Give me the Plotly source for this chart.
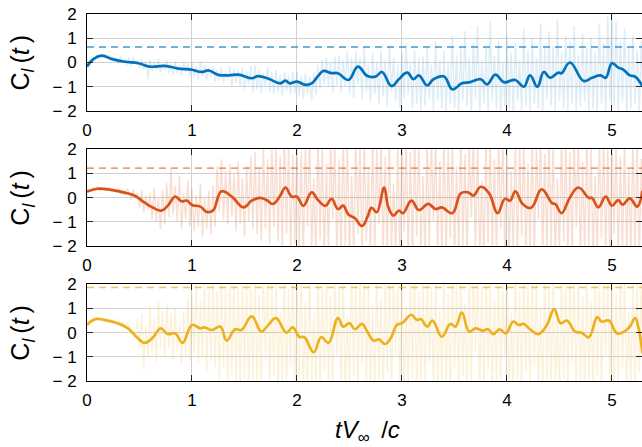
import numpy as np
import plotly.graph_objects as go
from plotly.subplots import make_subplots

# ---- smoothed lift coefficient, three cases ----
t_blue = [0.0, 0.06, 0.14, 0.24, 0.36, 0.49, 0.6, 0.74, 0.87, 1.0, 1.09, 1.16, 1.25, 1.35,
          1.44, 1.57, 1.63, 1.73, 1.84, 1.89, 1.93, 2.0, 2.08, 2.14, 2.2, 2.25, 2.33, 2.39,
          2.49, 2.58, 2.67, 2.75, 2.81, 2.9, 2.97, 3.05, 3.11, 3.16, 3.24, 3.3, 3.4, 3.48,
          3.57, 3.65, 3.75, 3.81, 3.89, 3.97, 4.08, 4.16, 4.22, 4.29, 4.35, 4.41, 4.49, 4.52,
          4.6, 4.73, 4.81, 4.89, 4.94, 5.0, 5.06, 5.11, 5.17, 5.22, 5.29]
cl_blue = [-0.17, 0.14, 0.28, 0.14, 0.03, -0.03, -0.17, -0.14, -0.25, -0.3, -0.39, -0.33,
           -0.51, -0.53, -0.5, -0.65, -0.56, -0.67, -0.86, -0.75, -0.86, -0.79, -0.92, -0.86,
           -0.56, -0.35, -0.44, -0.44, -0.72, -0.17, -0.56, -0.58, -0.39, -0.97, -0.69, -0.42,
           -0.69, -0.53, -0.94, -0.69, -0.58, -1.11, -0.86, -0.81, -0.69, -0.9, -0.5, -0.81,
           -0.72, -1.0, -0.53, -1.0, -0.39, -0.63, -0.42, -0.44, 0.0, -0.76, -0.63, -0.53,
           -0.63, -0.03, -0.21, -0.3, -0.53, -0.58, -0.97]

t_red = [0.0, 0.1, 0.23, 0.36, 0.46, 0.55, 0.63, 0.71, 0.77, 0.84, 0.9, 0.95, 1.0, 1.08,
         1.14, 1.2, 1.28, 1.38, 1.49, 1.57, 1.65, 1.71, 1.77, 1.84, 1.89, 1.95, 2.0, 2.06,
         2.14, 2.2, 2.27, 2.33, 2.39, 2.44, 2.49, 2.55, 2.62, 2.67, 2.71, 2.76, 2.83, 2.87,
         2.92, 2.97, 3.01, 3.09, 3.16, 3.25, 3.32, 3.38, 3.48, 3.56, 3.63, 3.68, 3.75, 3.83,
         3.91, 3.98, 4.03, 4.08, 4.15, 4.23, 4.33, 4.43, 4.46, 4.52, 4.6, 4.68, 4.78, 4.81,
         4.87, 4.94, 5.0, 5.06, 5.1, 5.17, 5.24, 5.29]
cl_red = [0.25, 0.37, 0.32, 0.21, 0.07, -0.21, -0.42, -0.53, -0.33, 0.04, -0.15, -0.12,
          -0.3, -0.37, -0.59, -0.53, 0.26, 0.04, -0.4, -0.12, -0.01, -0.1, -0.26, 0.08, 0.42,
          0.04, 0.04, -0.34, 0.22, -0.1, -0.34, -0.05, -0.47, -0.33, -0.7, -0.84, -1.17,
          -0.81, -0.42, -0.6, 0.42, -0.4, -0.74, -0.53, -0.64, -0.12, -0.51, -0.26, -0.47,
          -0.4, -0.64, 0.18, 0.22, 0.08, 0.45, 0.18, -0.64, -0.05, -0.12, 0.26, -0.26, -0.42,
          0.34, -0.23, -0.26, -0.64, 0.01, 0.42, -0.01, -0.01, -0.4, 0.04, -0.33, -0.1, -0.29,
          -0.03, -0.37, 0.29]

t_yellow = [0.0, 0.08, 0.16, 0.29, 0.39, 0.47, 0.55, 0.63, 0.7, 0.77, 0.84, 0.91, 1.0, 1.08,
            1.12, 1.19, 1.27, 1.33, 1.41, 1.47, 1.57, 1.66, 1.72, 1.8, 1.9, 1.96, 2.02, 2.07,
            2.16, 2.23, 2.3, 2.39, 2.44, 2.5, 2.55, 2.62, 2.67, 2.73, 2.78, 2.84, 2.9, 2.95,
            3.0, 3.09, 3.14, 3.18, 3.24, 3.29, 3.38, 3.46, 3.51, 3.57, 3.64, 3.7, 3.77, 3.82,
            3.87, 3.93, 3.99, 4.06, 4.11, 4.16, 4.22, 4.3, 4.38, 4.45, 4.51, 4.57, 4.65, 4.71,
            4.78, 4.86, 4.9, 4.97, 5.05, 5.13, 5.17, 5.22, 5.25, 5.29]
cl_yellow = [0.32, 0.56, 0.53, 0.39, 0.18, -0.17, -0.42, -0.19, 0.18, -0.06, -0.03, -0.42,
             0.32, 0.18, 0.22, 0.11, 0.25, -0.33, 0.14, 0.11, 0.67, 0.04, 0.28, 0.6, 0.0, 0.22,
             -0.17, -0.19, -0.81, -0.19, -0.42, 0.6, 0.25, 0.39, 0.14, 0.36, 0.04, -0.33,
             -0.28, -0.47, -0.17, 0.32, 0.39, 0.74, 0.53, 0.56, 0.25, 0.5, -0.17, 0.36, 0.25,
             0.83, 0.04, 0.18, 0.08, 0.14, -0.06, 0.14, -0.03, 0.46, 0.32, 0.36, 0.14, -0.06,
             0.32, 0.97, 0.39, 0.5, 0.04, 0.0, -0.19, 0.64, 0.46, 0.5, -0.03, 0.08, 0.25, 0.6,
             0.25, -0.86]

# ---- raw (unfiltered) samples, dt = 0.02 ----
t_raw = np.round(np.arange(266) * 0.02, 2)
raw_blue = [
    -0.2, -0.05, 0.1, 0.05, 0.2, 0.15, 0.3, 0.22, 0.35, 0.2,
    0.3, 0.1, 0.25, 0.05, 0.2, -0.05, 0.25, 0.0, 0.15, -0.1,
    0.2, -0.15, 0.25, -0.05, 0.1, -0.25, 0.15, -0.3, 0.05, -0.7,
    0.1, -0.35, 0.0, -0.3, 0.15, -0.4, -0.05, -0.3, 0.1, -0.45,
    -0.05, -0.5, 0.05, -0.45, -0.1, -0.55, 0.0, -0.4, -0.05, -0.6,
    0.0, -0.6, -0.15, -0.7, 0.05, -0.55, -0.1, -0.75, -0.2, -0.6,
    -0.15, -0.8, -0.3, -0.75, -0.2, -0.85, -0.35, -0.7, -0.15, -0.95,
    -0.25, -0.85, -0.3, -1.0, -0.2, -1.1, -0.35, -0.9, -0.15, -1.2,
    -0.1, -1.1, -0.3, -1.25, -0.45, -1.0, -0.2, -1.2, -0.4, -1.3,
    -0.3, -1.2, -0.5, -1.35, -0.4, -1.15, -0.55, -1.3, -0.35, -1.25,
    -0.4, -1.4, -0.55, -1.5, -0.45, -1.3, -0.6, -1.55, -0.4, -1.35,
    -0.1, -1.1, 0.1, -0.9, 0.2, -1.0, 0.0, -1.2, 0.25, -0.95,
    0.3, -1.2, 0.1, -1.0, 0.45, -1.3, 0.2, -1.45, 0.5, -0.9,
    0.2, -1.5, 0.6, -1.2, -0.1, -1.6, 0.4, -1.3, 0.0, -1.7,
    0.5, -1.4, 0.1, -1.8, 0.7, -1.2, 0.2, -1.6, -0.1, -1.9,
    0.4, -1.5, 0.8, -1.3, 0.0, -1.9, 0.5, -1.7, 0.2, -2.0,
    0.3, -1.8, 0.6, -1.5, -0.1, -2.0, 0.9, -1.6, 0.1, -1.9,
    0.5, -2.0, 0.0, -1.7, 1.1, -1.9, 0.3, -2.1, 0.6, -1.6,
    1.3, -1.8, 0.2, -2.0, 0.8, -1.5, 1.5, -2.1, 0.1, -1.7,
    0.6, -2.0, 1.7, -1.6, 0.3, -1.9, 0.9, -2.1, 0.0, -1.8,
    1.2, -1.9, 0.4, -2.1, 0.8, -1.6, 0.1, -2.0, 1.4, -1.8,
    0.5, -2.0, 1.0, -1.7, 0.2, -1.9, 1.6, -2.1, 0.6, -1.5,
    1.3, -1.8, 0.7, -2.0, 1.8, -1.6, 0.4, -1.9, 1.1, -2.0,
    0.9, -1.7, 1.5, -2.0, 0.3, -1.8, 1.2, -1.6, 0.6, -2.1,
    1.0, -1.9, 0.4, -2.0, 1.6, -1.7, 0.8, -2.1, 1.9, -1.6,
    2.0, -1.8, 1.7, -2.0, 0.9, -1.6, 1.4, -2.1, 0.6, -1.9,
    1.1, -1.7, 0.5, -2.0, 0.9, -1.8]
raw_red = [
    0.25, 0.35, 0.3, 0.4, 0.35, 0.45, 0.3, 0.4, 0.35, 0.42,
    0.3, 0.4, 0.25, 0.35, 0.2, 0.4, 0.15, 0.3, 0.1, 0.35,
    0.25, -0.1, 0.35, 0.0, 0.2, -0.4, 0.3, -0.6, 0.1, -0.5,
    0.2, -0.9, 0.4, -1.0, 0.0, -1.3, 0.3, -1.1, 0.6, -0.8,
    1.2, -0.7, 0.5, -1.0, 0.9, -1.3, 0.2, -0.9, 0.7, -1.2,
    0.4, -1.4, 0.1, -1.2, 0.6, -1.6, 0.0, -1.3, 0.3, -1.5,
    0.5, -1.2, 1.3, -0.6, 1.6, -0.9, 1.1, -1.1, 1.4, -0.8,
    1.0, -1.4, 1.5, -1.1, 0.8, -1.6, 1.3, -1.0, 1.7, -1.3,
    1.9, -1.5, 1.2, -1.8, 2.1, -1.3, 1.6, -1.9, 2.3, -1.2,
    2.4, -1.8, 1.7, -2.1, 2.6, -1.5, 2.2, -2.3, 1.8, -1.9,
    2.5, -2.4, 1.9, -2.6, 2.3, -1.2, 2.6, -2.2, 0.8, -2.5,
    2.6, -1.7, 2.2, -2.6, 1.4, -2.3, 2.5, -0.9, 2.4, -2.6,
    1.6, -2.5, 2.6, -2.0, 2.3, -2.6, 0.9, -2.4, 2.6, -1.5,
    2.2, -2.6, 2.5, -1.8, 1.2, -2.5, 2.6, -2.3, 2.0, -1.1,
    2.6, -2.4, 1.7, -2.6, 2.5, -2.0, 0.6, -2.5, 2.4, -2.6,
    2.3, -1.4, 2.6, -2.5, 1.9, -2.6, 2.5, -1.6, 2.2, -2.4,
    0.9, -2.6, 2.6, -2.2, 2.4, -1.0, 2.5, -2.6, 1.5, -2.3,
    2.6, -2.5, 2.1, -1.7, 2.5, -2.6, 1.3, -2.4, 2.6, -2.0,
    1.8, -2.6, 2.4, -0.8, 2.6, -2.3, 2.2, -2.6, 0.7, -2.5,
    2.5, -1.9, 2.6, -2.4, 1.6, -2.6, 2.3, -1.3, 2.6, -2.5,
    2.0, -2.6, 1.1, -2.2, 2.6, -2.5, 2.4, -1.6, 2.5, -2.6,
    1.4, -2.4, 2.6, -2.6, 2.2, -0.9, 2.5, -2.5, 1.8, -2.3,
    2.6, -2.0, 2.3, -2.6, 0.8, -2.4, 2.6, -1.8, 2.4, -2.6,
    1.9, -2.5, 2.5, -1.2, 2.6, -2.6, 1.5, -2.3, 2.6, -2.1,
    2.2, -2.6, 0.9, -2.4, 2.5, -1.7, 2.6, -2.5, 2.0, -2.6,
    2.6, -1.5, 2.4, -2.6, 1.7, -2.3, 2.5, -2.6, 1.2, -2.4,
    2.6, -2.2, 2.3, -2.6, 1.6, -2.0]
raw_yellow = [
    0.3, 0.45, 0.5, 0.6, 0.55, 0.62, 0.5, 0.6, 0.55, 0.6,
    0.5, 0.58, 0.45, 0.55, 0.4, 0.5, 0.35, 0.45, 0.3, 0.4,
    0.25, 0.05, 0.2, -0.2, 0.6, -0.7, 0.8, -1.5, 0.3, -1.0,
    1.1, -0.9, 0.6, -1.2, 1.3, -0.6, 0.9, -1.0, 1.2, -0.7,
    0.8, -1.1, 1.0, -0.8, 0.4, -1.3, 0.9, -1.0, 1.4, -1.2,
    1.6, -0.9, 2.0, -1.3, 1.4, -1.0, 2.2, -1.6, 1.8, -1.2,
    2.1, -1.5, 1.7, -2.0, 2.4, -1.4, 1.9, -2.2, 2.3, -1.7,
    2.5, -2.1, 1.8, -2.4, 2.6, -1.9, 2.2, -2.6, 2.4, -2.0,
    2.6, -2.3, 1.6, -2.6, 2.4, -1.1, 2.5, -2.5, 2.1, -1.8,
    2.3, -2.6, 0.9, -2.2, 2.6, -2.4, 1.8, -1.4, 2.5, -2.6,
    2.2, -1.9, 2.6, -2.5, 1.3, -2.6, 2.4, -2.1, 0.8, -2.4,
    2.6, -2.6, 2.1, -1.6, 2.5, -2.3, 1.5, -2.6, 2.6, -1.0,
    1.9, -2.5, 2.4, -2.6, 0.7, -2.2, 2.6, -1.8, 2.3, -2.6,
    2.5, -1.3, 2.6, -2.4, 2.0, -2.6, 1.2, -2.5, 2.6, -2.1,
    1.4, -2.6, 2.3, -1.7, 2.6, -2.5, 2.4, -0.9, 2.2, -2.6,
    2.6, -2.3, 1.1, -2.6, 2.5, -1.9, 2.6, -2.4, 1.7, -2.2,
    2.4, -2.6, 2.6, -1.2, 1.9, -2.5, 2.3, -2.6, 0.9, -2.0,
    2.6, -2.4, 1.6, -2.6, 2.5, -1.5, 2.2, -2.5, 2.6, -1.8,
    1.2, -2.6, 2.4, -2.2, 2.6, -0.8, 2.5, -2.6, 1.9, -2.4,
    2.6, -1.6, 2.2, -2.6, 1.4, -2.3, 2.6, -2.5, 2.0, -1.1,
    2.5, -2.6, 0.8, -2.4, 2.6, -2.1, 1.7, -2.6, 2.4, -1.7,
    2.2, -2.5, 2.6, -1.4, 2.3, -2.6, 1.0, -2.4, 2.6, -2.2,
    1.8, -2.6, 2.5, -2.3, 0.6, -2.5, 2.6, -1.9, 2.4, -2.6,
    2.6, -1.2, 2.1, -2.6, 2.5, -2.4, 1.5, -2.6, 2.6, -2.0,
    1.3, -2.5, 2.6, -1.8, 2.4, -2.6, 2.2, -1.0, 2.5, -2.4,
    2.6, -2.6, 1.6, -2.2, 2.6, -1.5, 2.3, -2.6, 0.9, -2.3,
    2.5, -2.5, 2.6, -1.7, 2.2, -2.6]

# reference levels (dashed)
level_blue = 0.64
level_red = 1.22
level_yellow = 1.87

y_ticks = [-2, -1, 0, 1, 2]
y_ticktext = ["\u2212 2", "\u2212 1", "0", "1", "2"]
x_ticks = [0, 1, 2, 3, 4, 5]

# (time, smoothed, raw, level, colour, raw-trace alpha)
panels = [
    (t_blue, cl_blue, raw_blue, level_blue, (0, 114, 189), 0.13),
    (t_red, cl_red, raw_red, level_red, (217, 83, 25), 0.19),
    (t_yellow, cl_yellow, raw_yellow, level_yellow, (237, 177, 32), 0.16),
]

W, H = 642, 447
fig = make_subplots(rows=3, cols=1, shared_xaxes=False, vertical_spacing=0.0)

FONT = "Liberation Sans, Arial, sans-serif"

for i, (tt, cl, raw, lvl, (r, g, b), a) in enumerate(panels, start=1):
    fig.add_trace(go.Scatter(x=t_raw, y=raw, mode="lines",
                             line=dict(color=f"rgba({r},{g},{b},{a})", width=1.5),
                             hoverinfo="skip", showlegend=False), row=i, col=1)
    fig.add_trace(go.Scatter(x=tt, y=cl, mode="lines",
                             line=dict(color=f"rgb({r},{g},{b})", width=2.7,
                                       shape="spline", smoothing=1.2),
                             showlegend=False), row=i, col=1)
    fig.add_hline(y=lvl, line=dict(color=f"rgba({r},{g},{b},0.75)", width=1.4,
                                   dash="7px,5px"), row=i, col=1)

# panel placement (paper fractions)
domains = [(0.7357, 1.0), (0.3678, 0.6313), (0.0, 0.2635)]
axis_common = dict(showline=True, linecolor="#000000", linewidth=1, mirror="allticks",
                   ticks="inside", ticklen=6, tickcolor="#262626", tickwidth=1,
                   showgrid=True, gridcolor="#d2d2d2", gridwidth=1, zeroline=False,
                   tickfont=dict(family=FONT, size=17, color="#000000"))
for i in range(1, 4):
    fig.update_xaxes(row=i, col=1, range=[0, 5.286], tickvals=x_ticks,
                     ticktext=[str(v) for v in x_ticks], ticklabelstandoff=4,
                     **axis_common)
    fig.update_yaxes(row=i, col=1, range=[-2, 2], tickvals=y_ticks, ticktext=y_ticktext,
                     domain=list(domains[i - 1]), ticklabelstandoff=6, **axis_common)

ML, MR, MT, MB = 87, 0, 14, 66
plot_w = W - ML - MR
plot_h = H - MT - MB

annotations = []
for lo, hi in domains:
    annotations.append(dict(
        text="C<sub><i>l</i></sub>\u2009(<i>t</i>\u2009)", textangle=-90,
        x=-(ML - 22) / plot_w, y=(lo + hi) / 2, xref="paper", yref="paper",
        xanchor="center", yanchor="middle", showarrow=False,
        font=dict(family=FONT, size=25, color="#000000")))
annotations.append(dict(
    text="<i>tV</i><sub>\u221e</sub> \u2009/<i>c</i>",
    x=(367 - ML) / plot_w, y=-(431 - (H - MB)) / plot_h, xref="paper", yref="paper",
    xanchor="center", yanchor="middle", showarrow=False,
    font=dict(family=FONT, size=24, color="#000000")))

fig.update_layout(width=W, height=H, margin=dict(l=ML, r=MR, t=MT, b=MB),
                  paper_bgcolor="white", plot_bgcolor="white",
                  annotations=annotations, showlegend=False)

fig.write_html("out.html")
